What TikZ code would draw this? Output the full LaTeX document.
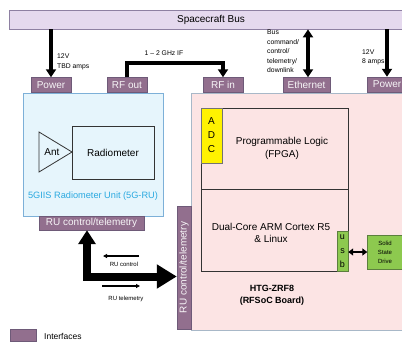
\documentclass[tikz,border=0pt]{standalone}
\usepackage{fontspec}
\setmainfont{Liberation Sans}
\usetikzlibrary{arrows.meta}
\definecolor{busfill}{HTML}{E5D9EE}
\definecolor{busdraw}{HTML}{8E80A2}
\definecolor{ifcfill}{HTML}{926F8E}
\definecolor{ifcdraw}{HTML}{6E5A78}
\definecolor{rufill}{HTML}{E6F5FC}
\definecolor{rudraw}{HTML}{7DB0D8}
\definecolor{rutext}{HTML}{2AA9E0}
\definecolor{boardfill}{HTML}{FCE4E4}
\definecolor{boarddraw}{HTML}{A8B8C8}
\definecolor{ssdgreen}{HTML}{8DC94F}
\definecolor{ssddraw}{HTML}{5C7F3E}
\tikzset{
  ifc/.style={draw=ifcdraw, fill=ifcfill, text=white!93!ifcfill, inner sep=0pt,
    minimum height=15, font=\fontsize{10}{12}\selectfont},
  panel/.style={draw=#1, line width=0.8pt, inner sep=0pt},
  block/.style={draw=black!80, line width=0.8pt, inner sep=0pt, align=center,
    font=\fontsize{10}{12.5}\selectfont},
  note/.style={inner sep=0pt, align=left, font=\fontsize{6.8}{9.5}\selectfont},
  fatline/.style={line width=3.6pt, -{Triangle[length=8pt,width=10pt]}},
}

\begin{document}
\begin{tikzpicture}[x=1pt, y=-1pt]
  \useasboundingbox (0,0) rectangle (402,341);
  \clip (0,0) rectangle (402,341);
  % Bus
  \node[panel=busdraw, fill=busfill, minimum width=404, minimum height=19,
    font=\fontsize{10}{12}\selectfont] (bus) at (211,19.5) {Spacecraft Bus};
  % Radiometer unit
  \node[panel=rudraw, fill=rufill, minimum width=140, minimum height=123] (ru) at (93,154.5) {};
  \draw[black!80, line width=0.8pt] (39,132) -- (39,172) -- (72,152) -- cycle;
  \node[inner sep=0pt, font=\fontsize{10}{12}\selectfont] (ant) at (52,152) {Ant};
  \node[block, fill=rufill, minimum width=82, minimum height=53] (radio) at (113,152.5) {Radiometer};
  \node[inner sep=0pt, text=rutext, font=\fontsize{9.2}{11}\selectfont] (rulabel) at (93,196)
    {5GIIS Radiometer Unit (5G-RU)};
  % RFSoC board
  \node[panel=boarddraw, fill=boardfill, minimum width=219, minimum height=237] (board) at (300.5,211.5) {};
  \node[block, minimum width=147, minimum height=81] (pl) at (274.5,148.5) {};
  \node[block, minimum width=147, minimum height=82] (arm) at (274.5,230) {};
  \node[inner sep=0pt, align=center, font=\fontsize{10}{13}\selectfont] (pltext) at (282,148)
    {Programmable Logic\\(FPGA)};
  \node[inner sep=0pt, align=center, font=\fontsize{10}{12.5}\selectfont] (armtext) at (271,233)
    {Dual-Core ARM Cortex R5\\\& Linux};
  \node[draw=black!55, fill=yellow, inner sep=0pt, align=center, minimum width=21, minimum height=55,
    font=\fontsize{10}{14}\selectfont] (adc) at (211.5,135.5) {A\\D\\C};
  \node[draw=ssddraw, fill=ssdgreen, inner sep=0pt, align=center, minimum width=11, minimum height=40,
    font=\fontsize{9}{14}\selectfont] (usb) at (342.5,251) {u\\s\\b};
  \node[draw=ssddraw, fill=ssdgreen, inner sep=0pt, align=center, minimum width=35, minimum height=34,
    font=\fontsize{6}{9}\selectfont] (ssd) at (385,252) {Solid\\State\\Drive};
  \node[inner sep=0pt, align=center, font=\bfseries\fontsize{9}{11.5}\selectfont] (htg) at (272,295.5)
    {HTG-ZRF8\\(RFSoC Board)};
  % Interfaces
  \node[ifc, minimum width=40] (pwrL) at (51,85) {Power};
  \node[ifc, minimum width=40] (rfout) at (127,85) {RF out};
  \node[ifc, minimum width=40] (rfin) at (223,85) {RF in};
  \node[ifc, minimum width=47] (eth) at (306.5,85) {Ethernet};
  \node[ifc, minimum width=40] (pwrR) at (387,84.5) {Power};
  \node[ifc, minimum width=105, minimum height=14] (ructl) at (91.5,223) {RU control/telemetry};
  \node[ifc, rotate=90, minimum width=123, minimum height=14] (ructlv) at (184,267.5) {RU control/telemetry};
  % Connections to the bus
  \draw[fatline] (pwrL.north |- bus.south) -- (pwrL.north);
  \draw[fatline] (pwrR.north |- bus.south) -- (pwrR.north);
  \draw[line width=3.6pt, {Triangle[length=8pt,width=10pt]}-{Triangle[length=8pt,width=10pt]}]
    ([xshift=1.5]eth.north |- bus.south) -- ([xshift=1.5]eth.north);
  \draw[fatline, line join=miter] (rfout.north) -- ++(0,-14.5) -| (rfin.north);
  \node[note] (pwrLnote) at (57,62) [anchor=west] {12V\\TBD amps};
  \node[note] (ifnote) at (164,53) {1 -- 2 GHz IF};
  \node[note] (ethnote) at (267,51.5) [anchor=west] {Bus\\command/\\control/\\telemetry/\\downlink};
  \node[note] (pwrRnote) at (362,57.5) [anchor=west] {12V\\8 amps};
  % RU link
  \coordinate (bend) at (87,276.5);
  \draw[line width=8pt, line join=miter,
    {Triangle[length=14pt,width=17pt]}-{Triangle[length=20pt,width=23pt]}]
    (ructl.south -| bend) -- (bend) -- (bend -| ructlv.north);
  \coordinate (ctlA) at (139,256);
  \coordinate (ctlB) at (103,256);
  \coordinate (telA) at (102,286);
  \coordinate (telB) at (140,286);
  \draw[line width=1.2pt, -{Triangle[length=4pt,width=4pt]}] (ctlA) -- (ctlB);
  \draw[line width=1.2pt, -{Triangle[length=4pt,width=4pt]}] (telA) -- (telB);
  \node[note, font=\fontsize{6}{8}\selectfont] (ctlnote) at (124,264) {RU control};
  \node[note, font=\fontsize{6}{8}\selectfont] (telnote) at (126,299) {RU telemetry};
  % USB to drive
  \draw[line width=2.6pt, {Triangle[length=5pt,width=7pt]}-{Triangle[length=5pt,width=7pt]}]
    (usb.east |- ssd.west) -- (ssd.west);
  % Legend
  \node[ifc, minimum width=26, minimum height=12] (legbox) at (23,335) {};
  \node[note, font=\fontsize{8.5}{10}\selectfont] (legtext) at (44,336) [anchor=west] {Interfaces};
\end{tikzpicture}
\end{document}
